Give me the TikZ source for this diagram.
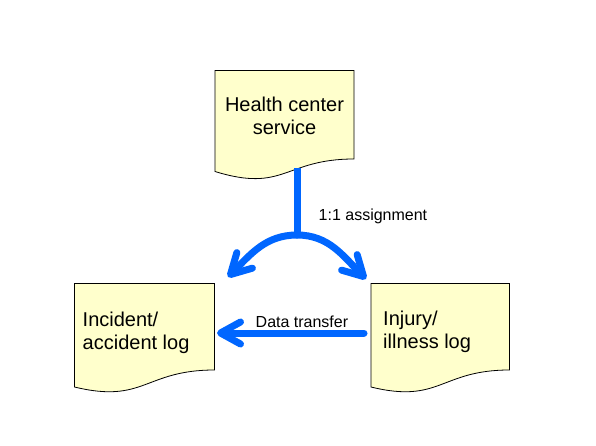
\documentclass[tikz,border=0pt]{standalone}
\usepackage{fontspec}
\setmainfont{Liberation Sans}
\usetikzlibrary{arrows.meta}
\definecolor{logfill}{HTML}{FFFFCC}
\definecolor{flowblue}{HTML}{0066FF}

% a log page: left, top, right, right bottom, left bottom
\newcommand{\logpage}[5]{%
\filldraw[page] (#1,#2) -- (#3,#2) -- (#3,#4)
  .. controls ({(#1+#3)/2},#4) and ({(#1+#3)/2},{#4+34}) .. (#1,#5) -- cycle;
}

\begin{document}
\begin{tikzpicture}[x=1pt, y=-1pt,
  page/.style={draw=black, line width=0.8pt, fill=logfill},
  title/.style={font=\fontsize{20}{23}\selectfont, inner sep=0pt},
  note/.style={font=\fontsize{16}{19}\selectfont, inner sep=0pt, anchor=base west},
  flow/.style={draw=flowblue, line width=7pt, line cap=round,
    -{Straight Barb[length=20pt,width=22pt,round]}}]
\useasboundingbox (0,0) rectangle (596,446);

% the three log pages
\logpage{215}{70.5}{354}{159}{171.5}
\logpage{74.5}{283.5}{214.5}{370}{387}
\logpage{371}{283.5}{509.5}{370}{387}

% page texts (base is the last line)
\node[title, anchor=base, align=center] (health) at (284.5,135) {Health center\\service};
\node[title, anchor=base west, align=left] (incident) at (82.5,349) {Incident/\\accident log};
\node[title, anchor=base west, align=left] (injury) at (383,348.5) {Injury/\\illness log};

% ends of the connectors
\coordinate (stem) at (297,168);
\coordinate (split) at (297,235);
\coordinate (incidentTop) at (228,277);
\coordinate (injuryTop) at (366,279);
\coordinate (injuryWest) at (364,333);
\coordinate (incidentEast) at (217,333);

% the arrows
\draw[flowblue, line width=7pt] (stem) -- (split);
\draw[flow] (split) to[out=180,in=45] (incidentTop);
\draw[flow] (split) to[out=0,in=135] (injuryTop);
\draw[flow] (injuryWest) -- (incidentEast);

% arrow labels
\node[note] (assign) at (318.5,220.7) {1:1 assignment};
\node[note] (transfer) at (255.5,327.3) {Data transfer};
\end{tikzpicture}
\end{document}
